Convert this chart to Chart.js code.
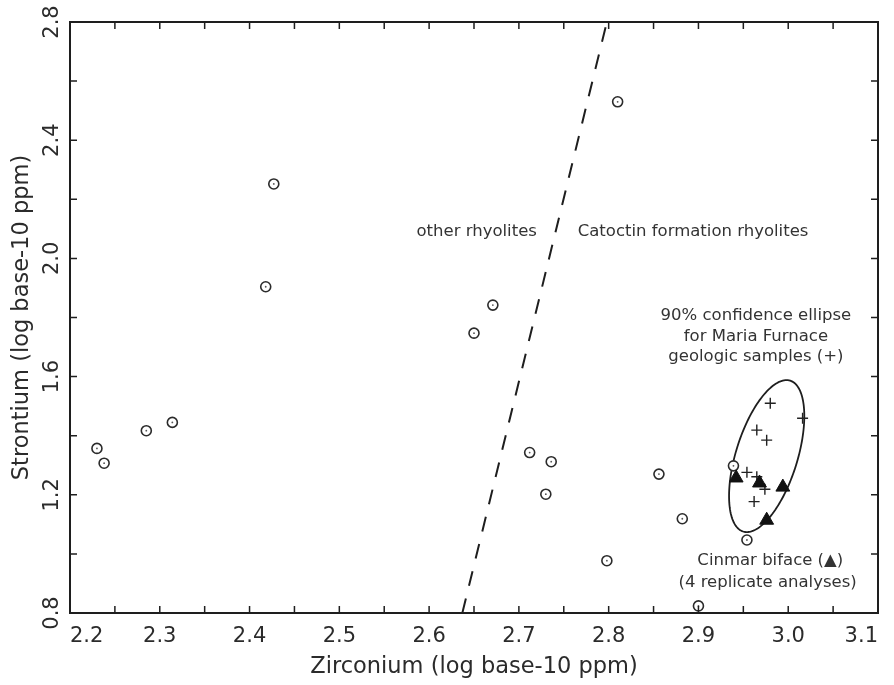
<!DOCTYPE html>
<html>
<head>
<meta charset="utf-8">
<script src="https://cdn.jsdelivr.net/npm/chart.js@4.4.1/dist/chart.umd.min.js"></script>
<style>
  html, body { margin: 0; padding: 0; background: #fff; }
  #wrap { width: 894px; height: 685px; }
</style>
</head>
<body>
<div id="wrap"><canvas id="zrSr" width="894" height="685"></canvas></div>
<script>
// Rhyolite samples (open circles)
const rhyoliteZr = [2.230, 2.238, 2.285, 2.314, 2.418, 2.427, 2.650, 2.671, 2.810, 2.712, 2.736, 2.730, 2.798, 2.856, 2.882, 2.900, 2.939, 2.954];
const rhyoliteSr = [1.357, 1.307, 1.417, 1.445, 1.904, 2.252, 1.747, 1.842, 2.530, 1.343, 1.312, 1.202, 0.977, 1.270, 1.119, 0.824, 1.298, 1.047];

// Maria Furnace geologic samples (+)
const mariaZr = [2.980, 3.016, 2.965, 2.976, 2.954, 2.965, 2.974, 2.962];
const mariaSr = [1.510, 1.459, 1.419, 1.385, 1.276, 1.261, 1.219, 1.177];

// Cinmar biface, 4 replicate analyses
const cinmarZr = [2.942, 2.968, 2.994, 2.976];
const cinmarSr = [1.257, 1.240, 1.226, 1.114];

// dashed boundary between the two rhyolite groups
const dividerZr = [2.637, 2.798];
const dividerSr = [0.8, 2.8];

// 90% confidence ellipse: centre and two conjugate semi-axes, in data units
const ellipseCentre = [2.976, 1.331];
const ellipseAxisA = [0.0262, 0.2552];
const ellipseAxisB = [0.0327, -0.0310];

// text notes inside the plot
const noteText = ['other rhyolites', 'Catoctin formation rhyolites',
    '90% confidence ellipse', 'for Maria Furnace', 'geologic samples (+)',
    'Cinmar biface (\u25B2)', '(4 replicate analyses)'];
const noteZr = [2.653, 2.894, 2.964, 2.964, 2.964, 2.980, 2.977];
const noteSr = [2.089, 2.089, 1.805, 1.734, 1.666, 0.976, 0.902];

const INK = '#2b2b2b';
const FONT = 'DejaVu Sans';

const toPoints = (xs, ys) => xs.map((x, i) => ({ x: x, y: ys[i] }));
const isStep = (v, base, step) => Math.abs((v - base) / step - Math.round((v - base) / step)) < 1e-6;

// frame, inward ticks, rotated y labels, ellipse and notes
const decorations = {
    id: 'decorations',
    beforeDatasetsDraw(chart) {
        const { ctx, scales: { x, y } } = chart;
        ctx.save();
        ctx.strokeStyle = '#1e1e1e';
        ctx.lineWidth = 1.8;
        ctx.beginPath();
        const n = 160;
        for (let i = 0; i <= n; i++) {
            const t = Math.PI * 2 * i / n;
            const zx = ellipseCentre[0] + ellipseAxisA[0] * Math.cos(t) + ellipseAxisB[0] * Math.sin(t);
            const zy = ellipseCentre[1] + ellipseAxisA[1] * Math.cos(t) + ellipseAxisB[1] * Math.sin(t);
            const px = x.getPixelForValue(zx);
            const py = y.getPixelForValue(zy);
            if (i === 0) ctx.moveTo(px, py); else ctx.lineTo(px, py);
        }
        ctx.closePath();
        ctx.stroke();
        ctx.restore();
    },
    afterDraw(chart) {
        const { ctx, chartArea: a, scales: { x, y } } = chart;
        const tick = 7;
        ctx.save();
        ctx.strokeStyle = '#1e1e1e';

        // ticks (inward on all four sides)
        ctx.lineWidth = 1.5;
        ctx.beginPath();
        x.ticks.forEach(t => {
            const px = x.getPixelForValue(t.value);
            ctx.moveTo(px, a.bottom); ctx.lineTo(px, a.bottom - tick);
            ctx.moveTo(px, a.top); ctx.lineTo(px, a.top + tick);
        });
        y.ticks.forEach(t => {
            const py = y.getPixelForValue(t.value);
            ctx.moveTo(a.left, py); ctx.lineTo(a.left + tick, py);
            ctx.moveTo(a.right, py); ctx.lineTo(a.right - tick, py);
        });
        ctx.stroke();

        // frame
        ctx.lineWidth = 2;
        ctx.strokeRect(a.left, a.top, a.right - a.left, a.bottom - a.top);

        // rotated y tick labels
        ctx.fillStyle = INK;
        ctx.font = '21px "' + FONT + '"';
        ctx.textAlign = 'center';
        ctx.textBaseline = 'middle';
        y.ticks.forEach(t => {
            if (!isStep(t.value, 0.8, 0.4)) return;
            ctx.save();
            ctx.translate(53, y.getPixelForValue(t.value));
            ctx.rotate(-Math.PI / 2);
            ctx.fillText(t.value.toFixed(1), 0, 0);
            ctx.restore();
        });

        // notes
        ctx.font = '16.5px "' + FONT + '"';
        ctx.fillStyle = '#333';
        noteText.forEach((s, i) => {
            ctx.fillText(s, x.getPixelForValue(noteZr[i]), y.getPixelForValue(noteSr[i]));
        });
        ctx.restore();
    }
};

Chart.defaults.font.family = FONT;
Chart.defaults.color = INK;

new Chart(document.getElementById('zrSr'), {
    type: 'scatter',
    data: {
        datasets: [
            {
                label: 'boundary',
                type: 'line',
                data: toPoints(dividerZr, dividerSr),
                borderColor: '#1e1e1e',
                borderWidth: 2,
                borderDash: [15, 13],
                pointRadius: 0,
                fill: false,
                order: 5
            },
            {
                label: 'rhyolites',
                data: toPoints(rhyoliteZr, rhyoliteSr),
                pointStyle: 'circle',
                pointRadius: 5,
                borderWidth: 1.6,
                borderColor: '#2b2b2b',
                backgroundColor: '#ffffff',
                order: 4
            },
            {
                label: 'rhyolite centres',
                data: toPoints(rhyoliteZr, rhyoliteSr),
                pointStyle: 'circle',
                pointRadius: 0.9,
                borderWidth: 0,
                backgroundColor: '#555',
                order: 3
            },
            {
                label: 'Maria Furnace',
                data: toPoints(mariaZr, mariaSr),
                pointStyle: 'cross',
                pointRadius: 5.5,
                borderWidth: 1.4,
                borderColor: '#222',
                order: 2
            },
            {
                label: 'Cinmar biface',
                data: toPoints(cinmarZr, cinmarSr),
                pointStyle: 'triangle',
                pointRadius: 8,
                borderWidth: 1,
                borderColor: '#111',
                backgroundColor: '#111',
                order: 1
            }
        ]
    },
    options: {
        responsive: false,
        devicePixelRatio: 1,
        animation: false,
        layout: { padding: { top: 22, right: 16, left: 0, bottom: 0 } },
        plugins: {
            legend: { display: false },
            tooltip: { enabled: false }
        },
        scales: {
            x: {
                type: 'linear',
                min: 2.2,
                max: 3.1,
                grid: { display: false, drawTicks: false },
                border: { display: false },
                ticks: {
                    stepSize: 0.05,
                    autoSkip: false,
                    maxRotation: 0,
                    align: 'inner',
                    padding: 11,
                    font: { size: 21 },
                    color: INK,
                    callback: v => isStep(v, 0, 0.1) ? v.toFixed(1) : ''
                },
                title: {
                    display: true,
                    text: 'Zirconium (log base-10 ppm)',
                    font: { size: 22.5 },
                    color: INK,
                    padding: { top: 0, bottom: 4 }
                },
                afterFit: s => { s.height = 72; }
            },
            y: {
                type: 'linear',
                min: 0.8,
                max: 2.8,
                grid: { display: false, drawTicks: false },
                border: { display: false },
                ticks: {
                    stepSize: 0.2,
                    callback: () => ''
                },
                title: {
                    display: true,
                    text: 'Strontium (log base-10 ppm)',
                    font: { size: 22.5 },
                    color: INK,
                    padding: { top: 9, bottom: 0 }
                },
                afterFit: s => { s.width = 70; }
            }
        }
    },
    plugins: [decorations]
});
</script>
</body>
</html>
